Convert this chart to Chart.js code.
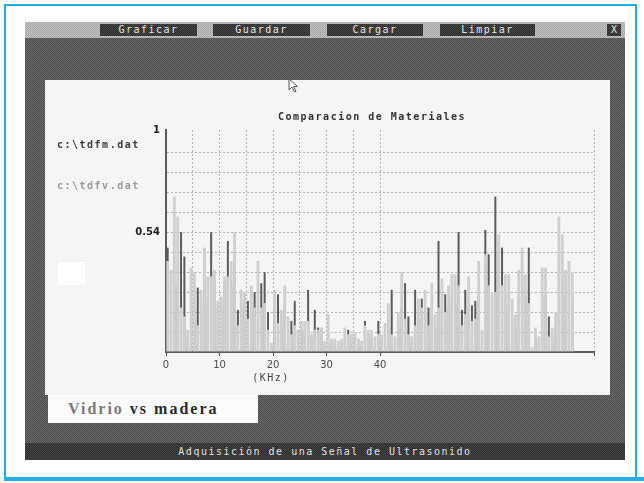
<!DOCTYPE html>
<html><head><meta charset="utf-8">
<script src="https://cdn.jsdelivr.net/npm/chart.js@4.4.1/dist/chart.umd.min.js"></script>
<style>
html,body{margin:0;padding:0;background:#fff;width:644px;height:483px;overflow:hidden;position:relative;}
.abs{position:absolute;box-sizing:border-box;}
#frame{left:4px;top:4px;width:633px;height:476px;border:2px solid #22ade4;border-bottom:none;}
#frameBottom{left:4px;top:477px;width:640px;height:4px;background:#22ade4;}
#titlebar{left:25px;top:22px;width:600px;height:16px;background:repeating-conic-gradient(#a4a4a4 0 25%,#c4c4c4 0 50%) 0 0/2px 2px;}
#body{left:25px;top:38px;width:600px;height:405px;background:repeating-conic-gradient(#505050 0 25%,#666 0 50%) 0 0/2px 2px;}
#status{left:25px;top:443px;width:600px;height:17px;background:repeating-conic-gradient(#2e2e2e 0 25%,#444 0 50%) 0 0/2px 2px;color:#e2e2e2;font:10px 'DejaVu Sans Mono',monospace;letter-spacing:1.5px;text-align:center;line-height:17px;}
.btn{top:24px;height:12px;background:repeating-conic-gradient(#2e2e2e 0 25%,#464646 0 50%) 0 0/2px 2px;color:#e6e6e6;font:10px 'DejaVu Sans Mono',monospace;letter-spacing:1.5px;text-align:center;line-height:12px;}
#panel{left:45px;top:80px;width:565px;height:315px;background:repeating-conic-gradient(#efefef 0 25%,#fbfbfb 0 50%) 0 0/2px 2px;}
#whiteSq{left:58px;top:262px;width:27px;height:23px;background:#fff;}
#vidrio{left:48px;top:395px;width:210px;height:28px;background:#fbfbfb;font:bold 16px 'Liberation Serif',serif;letter-spacing:2px;line-height:28px;padding-left:20px;color:#2a2a2a;}
#vidrio span{color:#7a7a7a;}
#c{left:45px;top:80px;}
#cursor{left:288px;top:78px;}
</style></head>
<body>
<div class="abs" id="frame"></div>
<div class="abs" id="frameBottom"></div>
<div class="abs" id="titlebar"></div>
<div class="abs" id="body"></div>
<div class="abs btn" style="left:100px;width:97px;">Graficar</div>
<div class="abs btn" style="left:213px;width:97px;">Guardar</div>
<div class="abs btn" style="left:327px;width:96px;">Cargar</div>
<div class="abs btn" style="left:440px;width:95px;">Limpiar</div>
<div class="abs btn" style="left:607px;width:14px;letter-spacing:0;">X</div>
<div class="abs" id="panel"></div>
<div class="abs" id="whiteSq"></div>
<div class="abs" id="vidrio"><span>Vidrio</span> vs madera</div>
<div class="abs" id="status">Adquisición de una Señal de Ultrasonido</div>
<canvas class="abs" id="c" width="565" height="315"></canvas>
<svg class="abs" id="cursor" width="12" height="16" viewBox="0 0 12 16"><path d="M1 1 L1 12 L4 9 L6.5 14 L8 13.3 L5.6 8.5 L9.5 8.5 Z" fill="#fff" stroke="#555" stroke-width="1"/></svg>
<script>
// ---- data ----
const binKHz = 0.625;
const chartTitle = 'Comparacion de Materiales';
const seriesNames = ['c:\\tdfm.dat', 'c:\\tdfv.dat'];
const xAxisTitle = '(KHz)';
const tdfmValues = [0.47,0.20,0.30,0.30,0.54,0.43,0.07,0.23,0.20,0.29,0.20,0.30,0.25,0.54,0.30,0.20,
  0.20,0.30,0.50,0.30,0.40,0.19,0.20,0.22,0.23,0.20,0.27,0.15,0.31,0.36,0.18,0.02,
  0.20,0.26,0.10,0.20,0.10,0.14,0.23,0.05,0.10,0.08,0.28,0.05,0.19,0.11,0.08,0.04,
  0.04,0.03,0.04,0.03,0.04,0.06,0.10,0.06,0.07,0.04,0.03,0.14,0.08,0.06,0.05,0.14,
  0.05,0.08,0.10,0.28,0.05,0.10,0.20,0.31,0.16,0.05,0.28,0.15,0.24,0.18,0.20,0.20,
  0.12,0.50,0.20,0.26,0.20,0.25,0.22,0.54,0.19,0.28,0.20,0.21,0.23,0.25,0.06,0.55,
  0.44,0.18,0.70,0.45,0.47,0.20,0.22,0.15,0.10,0.25,0.30,0.25,0.47,0.01,0.06,0.04,
  0.25,0.25,0.16,0.06,0.10,0.40,0.35,0.25,0.30,0.25];
const tdfvValues = [0.41,0.37,0.70,0.61,0.20,0.16,0.10,0.38,0.36,0.12,0.28,0.47,0.34,0.34,0.37,0.23,
  0.25,0.34,0.34,0.41,0.54,0.12,0.28,0.27,0.15,0.30,0.20,0.41,0.20,0.22,0.10,0.04,
  0.28,0.13,0.19,0.30,0.16,0.08,0.12,0.10,0.14,0.14,0.14,0.08,0.10,0.10,0.11,0.05,
  0.17,0.06,0.06,0.05,0.06,0.11,0.08,0.08,0.09,0.06,0.05,0.12,0.10,0.10,0.07,0.08,
  0.08,0.13,0.22,0.08,0.07,0.18,0.36,0.15,0.08,0.07,0.12,0.24,0.20,0.28,0.12,0.31,
  0.17,0.20,0.33,0.18,0.30,0.35,0.35,0.30,0.12,0.17,0.34,0.14,0.15,0.41,0.10,0.44,
  0.30,0.27,0.27,0.53,0.30,0.35,0.35,0.24,0.17,0.37,0.47,0.35,0.22,0.02,0.11,0.07,
  0.38,0.38,0.07,0.11,0.18,0.61,0.53,0.37,0.41,0.36];
const xTickLabels = [0, 10, 20, 30, 40];
const xGridKHz = [5, 10, 15, 20, 25, 30, 35, 40, 80];
const yGridValues = [0.09, 0.18, 0.27, 0.36, 0.45, 0.54, 0.63, 0.72, 0.81, 0.9];
const yTickLabels = [0.54, 1];

const freqKHz = tdfvValues.map((_, i) => (i + 0.5) * binKHz);
const toPoints = vals => vals.map((v, i) => ({x: freqKHz[i], y: v}));

const textPlugin = {
  id: 'dosTexts',
  afterDraw(chart) {
    const ctx = chart.ctx, a = chart.chartArea;
    ctx.save();
    ctx.letterSpacing = '1.5px';
    ctx.textBaseline = 'middle';
    ctx.textAlign = 'center';
    ctx.font = 'bold 10px "DejaVu Sans Mono"';
    ctx.fillStyle = '#333';
    ctx.fillText(chartTitle, a.left + 206, a.top - 13);
    ctx.font = '10px "DejaVu Sans Mono"';
    ctx.fillStyle = '#444';
    ctx.fillText(xAxisTitle, a.left + 105, a.bottom + 26);
    ctx.textAlign = 'left';
    ctx.font = 'bold 10px "DejaVu Sans Mono"';
    const legendColors = ['#3c3c3c', '#9a9a9a'];
    chart.data.datasets.forEach((ds, i) => {
      ctx.fillStyle = legendColors[i];
      ctx.fillText(ds.label, 12, a.top + 15 + i * 41);
    });
    ctx.restore();
  }
};

new Chart(document.getElementById('c'), {
  type: 'bar',
  data: {
    datasets: [
      {label: seriesNames[0], data: toPoints(tdfmValues), backgroundColor: '#5c5c5c',
       order: 1, grouped: false, barPercentage: 0.6, categoryPercentage: 1},
      {label: seriesNames[1], data: toPoints(tdfvValues), backgroundColor: '#cfcfcf',
       order: 0, grouped: false, barPercentage: 0.85, categoryPercentage: 1}
    ]
  },
  options: {
    responsive: false, animation: false, devicePixelRatio: 1,
    layout: {padding: {left: 0, top: 50, right: 16, bottom: 0}},
    plugins: {legend: {display: false}, title: {display: false}, tooltip: {enabled: false}},
    scales: {
      x: {
        type: 'linear', min: 0, max: 80, offset: false,
        afterBuildTicks: s => { s.ticks = [0, ...xGridKHz].map(v => ({value: v})); },
        afterFit: s => { s.height = 43; },
        grid: {offset: false, lineWidth: 1, tickLength: 4, drawTicks: true,
          color: c => xGridKHz.includes(c.tick.value) ? '#b4b4b4' : 'transparent',
          tickColor: c => (xTickLabels.includes(c.tick.value) || c.tick.value === 80) ? '#555' : 'transparent'},
        border: {display: true, color: '#5a5a5a', width: 2, dash: [2, 2]},
        ticks: {autoSkip: false, maxRotation: 0, padding: 3, color: '#4a4a4a',
          font: {family: 'DejaVu Sans', size: 10},
          callback: v => xTickLabels.includes(v) ? String(v) : ''}
      },
      y: {
        min: 0, max: 1,
        afterBuildTicks: s => { s.ticks = [0, ...yGridValues, 1].map(v => ({value: v})); },
        afterFit: s => { s.width = 121; },
        grid: {drawTicks: false, lineWidth: 1,
          color: c => yGridValues.includes(c.tick.value) ? '#b4b4b4' : 'transparent'},
        border: {display: true, color: '#5a5a5a', width: 2, dash: [2, 2]},
        ticks: {autoSkip: false, padding: 6, color: '#222',
          font: {family: 'DejaVu Sans', size: 10, weight: 'bold'},
          callback: v => yTickLabels.includes(v) ? String(v) : ''}
      }
    }
  },
  plugins: [textPlugin]
});
</script>
</body></html>
